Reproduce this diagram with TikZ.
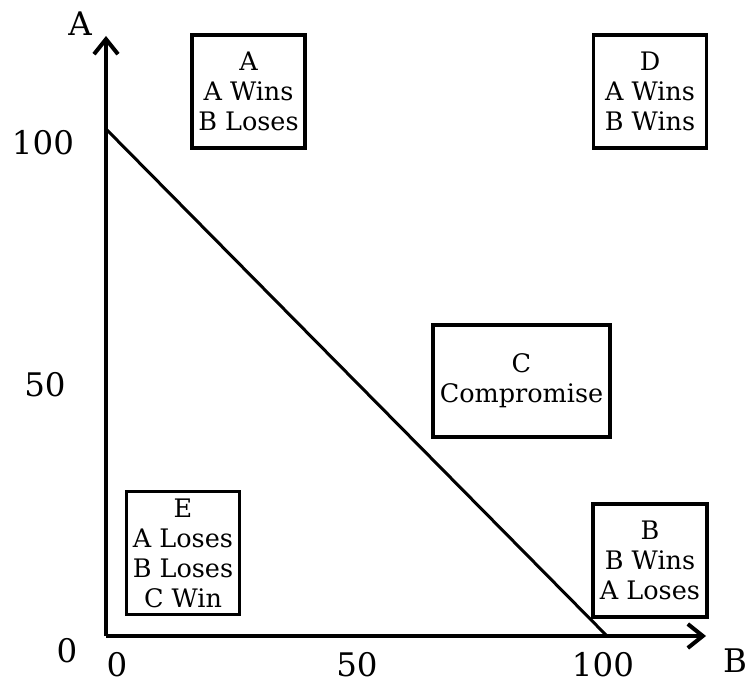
\documentclass[tikz,border=0pt]{standalone}
\usepackage{fontspec}
\setmainfont{DejaVu Serif}
\usetikzlibrary{arrows.meta}
\begin{document}
\begin{tikzpicture}[x=1pt,y=-1pt,
  axis/.style={line width=4.5pt,-{Straight Barb[length=15pt,width=24pt,line width=4pt]}},
  region/.style={draw,line width=3.2pt,align=center,inner sep=0pt,font=\fontsize{25.5}{30}\selectfont},
  ticklbl/.style={font=\fontsize{32.5}{36}\selectfont,inner sep=0pt}]
\useasboundingbox (0,0) rectangle (750,684);
\coordinate (O) at (106,636);
\coordinate (ytip) at (106,36);
\coordinate (xtip) at (706,636);
\coordinate (p1) at (107,130);
\coordinate (p2) at (607,636);
\draw[axis] (O) -- (ytip);
\draw[axis] (O) -- (xtip);
\draw[line width=3pt] (p1) -- (p2);
\node[ticklbl] (ya) at (80,24) {A};
\node[ticklbl] (xb) at (735,661) {B};
\node[ticklbl] (y100) at (43,143) {100};
\node[ticklbl] (y50) at (45,385) {50};
\node[ticklbl] (y0) at (67,651) {0};
\node[ticklbl] (x0) at (117,665) {0};
\node[ticklbl] (x50) at (357,665) {50};
\node[ticklbl] (x100) at (603,665) {100};
\node[region,minimum width=113pt,minimum height=113pt] (boxA) at (248.5,91.5) {A\\A Wins\\B Loses};
\node[region,minimum width=113pt,minimum height=113pt] (boxD) at (650,91.5) {D\\A Wins\\B Wins};
\node[region,minimum width=177pt,minimum height=112pt] (boxC) at (521.5,381) {C\\Compromise};
\node[region,minimum width=113pt,minimum height=123pt] (boxE) at (183,553) {E\\A Loses\\B Loses\\C Win};
\node[region,minimum width=114pt,minimum height=113pt] (boxB) at (650,560.5) {B\\B Wins\\A Loses};
\end{tikzpicture}
\end{document}
